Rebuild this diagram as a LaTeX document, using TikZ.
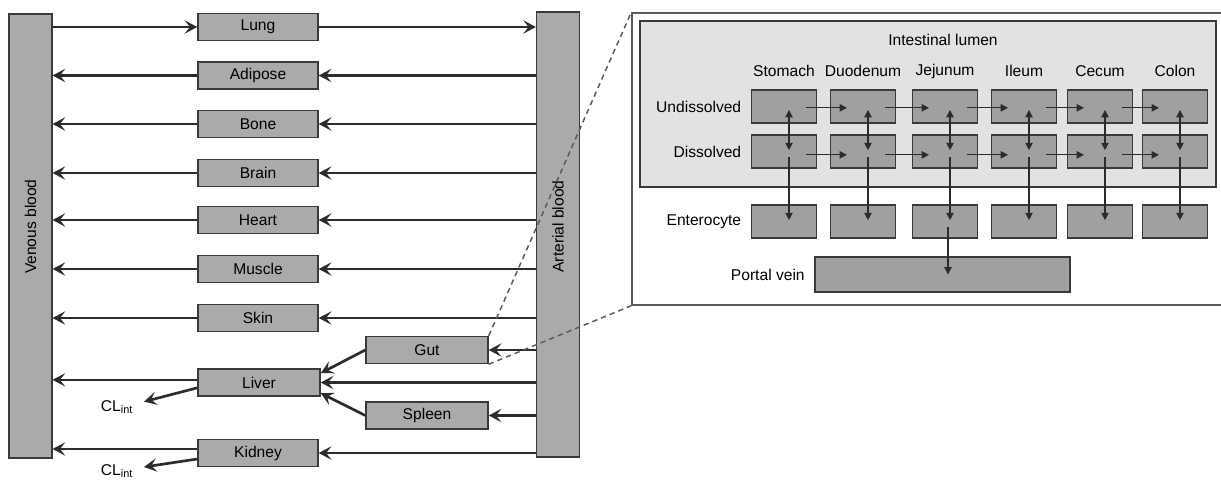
\documentclass[tikz,border=0pt]{standalone}
\usepackage{fontspec}
\setmainfont{Liberation Sans}
\usepackage[dvipsnames]{xcolor}
\definecolor{boxcolor}{HTML}{AAAAAC}
\definecolor{segcolor}{HTML}{A0A0A2}
\definecolor{lumencolor}{HTML}{E2E2E4}
\definecolor{edgecolor}{HTML}{3A3A3A}
\definecolor{flowcolor}{HTML}{2C2C2C}
\definecolor{panelcolor}{HTML}{5A5A5A}
\usepackage{tikz}
\usetikzlibrary{arrows.meta}

\begin{document}
\begin{tikzpicture}[x=0.75pt, y=-0.75pt, font=\fontsize{11.7}{14}\selectfont]

    \tikzset{%
        organ/.style={draw=edgecolor, line width=1.1pt, fill=boxcolor, minimum width=90pt, minimum height=20.25pt, inner sep=0pt},
        bloodbar/.style={draw=edgecolor, line width=1.1pt, fill=boxcolor, minimum width=32pt, inner sep=0pt},
        segment/.style={draw=edgecolor, line width=1.1pt, fill=segcolor, minimum width=48.75pt, minimum height=24.75pt, inner sep=0pt},
        rowname/.style={anchor=east, inner sep=0pt},
        clearance/.style={inner xsep=8pt, inner ysep=0pt},
        flow/.style={draw=flowcolor, line width=2pt, -{Stealth[length=9.5pt, width=10pt, inset=4pt]}},
        transit/.style={draw=flowcolor, line width=0.9pt, -{Triangle[length=5.5pt, width=5.5pt]}},
        exchange/.style={draw=flowcolor, line width=0.9pt, {Triangle[length=5.5pt, width=5.5pt]}-{Triangle[length=5.5pt, width=5.5pt]}},
        zoomline/.style={draw=panelcolor, line width=1.1pt, dash pattern=on 4pt off 3pt},
    }

    \useasboundingbox (0, 0) rectangle (1221, 482);

    \node [bloodbar, minimum height=333pt, label={[rotate=90, xshift=7pt]center:Venous blood}] (venous) at (30.5, 236) {};
    \node [bloodbar, minimum height=333.75pt, label={[rotate=90, xshift=6pt]center:Arterial blood}] (arterial) at (558, 234.5) {};

    \node [organ] (Lung) at (258, 27) {Lung};
    \draw [flow] (venous.east |- Lung) -- (Lung.west);
    \draw [flow] (Lung.east) -- (arterial.west |- Lung);

    \foreach \organ/\y in {Adipose/75.5, Bone/124, Brain/173, Heart/220, Muscle/269, Skin/318} {%
            \node [organ] (\organ) at (258, \y) {\organ};
            \draw [flow] (arterial.west |- \organ) -- (\organ.east);
            \draw [flow] (\organ.west) -- (venous.east |- \organ);
        }

    \node [organ, minimum width=91.5pt] (Gut) at (427, 350) {Gut};
    \node [organ, minimum width=91.5pt] (Spleen) at (427, 415.5) {Spleen};
    \node [organ, minimum width=91.5pt] (Liver) at (259, 382.5) {Liver};
    \node [organ] (Kidney) at (258, 453) {Kidney};
    \node [clearance] (clliver) at (117, 407) {CL\textsubscript{int}};
    \node [clearance] (clkidney) at (117, 471) {CL\textsubscript{int}};

    \draw [flow] (arterial.west |- Gut) -- (Gut.east);
    \draw [flow] (arterial.west |- Liver) -- (Liver.east);
    \draw [flow] (arterial.west |- Spleen) -- (Spleen.east);
    \draw [flow] (arterial.west |- Kidney) -- (Kidney.east);
    \draw [flow] (Gut.west) -- ([yshift=7pt]Liver.east);
    \draw [flow] (Spleen.west) -- ([yshift=-8pt]Liver.east);
    \draw [flow] ([yshift=2pt]Liver.west) -- ([yshift=2pt]venous.east |- Liver.west);
    \draw [flow] ([yshift=3pt]Kidney.west) -- ([yshift=3pt]venous.east |- Kidney.west);
    \draw [flow] ([yshift=-4pt]Liver.west) -- ([yshift=4pt]clliver.east);
    \draw [flow] ([yshift=-4.5pt]Kidney.west) -- ([yshift=3pt]clkidney.east);

    \node [draw=panelcolor, line width=1.1pt, fill=white, minimum width=448.5pt, minimum height=219pt, inner sep=0pt] (panel) at (931, 159) {};
    \draw [zoomline] (Gut.north east) -- (panel.north west);
    \draw [zoomline] (Gut.south east) -- (panel.south west);

    \node [draw=edgecolor, line width=1.1pt, fill=lumencolor, minimum width=432pt, minimum height=124.5pt, inner sep=0pt] (lumen) at (928, 104) {};
    \node (lumentitle) at (943, 40) {Intestinal lumen};

    \foreach \name/\x [count=\i] in {Stomach/784, Duodenum/863, Jejunum/945, Ileum/1024, Cecum/1100, Colon/1175} {%
            \node (h\i) at (\x, 71) {\name};
            \node [segment] (u\i) at (\x, 106.5) {};
            \node [segment] (d\i) at (\x, 151.5) {};
            \node [segment] (e\i) at (\x, 221.5) {};
            \draw [exchange] ([xshift=3.75pt, yshift=-2.6pt]u\i.center) -- ([xshift=3.75pt, yshift=1pt]d\i.center);
            \draw [transit] ([xshift=3.75pt, yshift=-4pt]d\i.center) -- ([xshift=3.75pt, yshift=1pt]e\i.center);
        }
    \foreach \i [evaluate=\i as \j using int(\i+1)] in {1, ..., 5} {%
            \draw [transit] ([xshift=16.5pt, yshift=-1pt]u\i.center) -- ([xshift=-12pt, yshift=-1pt]u\j.center);
            \draw [transit] ([xshift=16.5pt, yshift=-2.5pt]d\i.center) -- ([xshift=-12pt, yshift=-2.5pt]d\j.center);
        }

    \node [segment, minimum width=191.25pt, minimum height=26.25pt] (portal) at (942.5, 274.5) {};
    \draw [transit] ([xshift=2.25pt, yshift=-4pt]e3.center) -- ([xshift=2.25pt]e3.center |- portal.center);

    \node [rowname] (undissolved) at ([xshift=-7pt]u1.west) {Undissolved};
    \node [rowname] (dissolved) at ([xshift=-7pt]d1.west) {Dissolved};
    \node [rowname] (enterocyte) at ([xshift=-7pt]e1.west) {Enterocyte};
    \node [rowname] (portalname) at ([xshift=-7pt]portal.west) {Portal vein};

\end{tikzpicture}
\end{document}
